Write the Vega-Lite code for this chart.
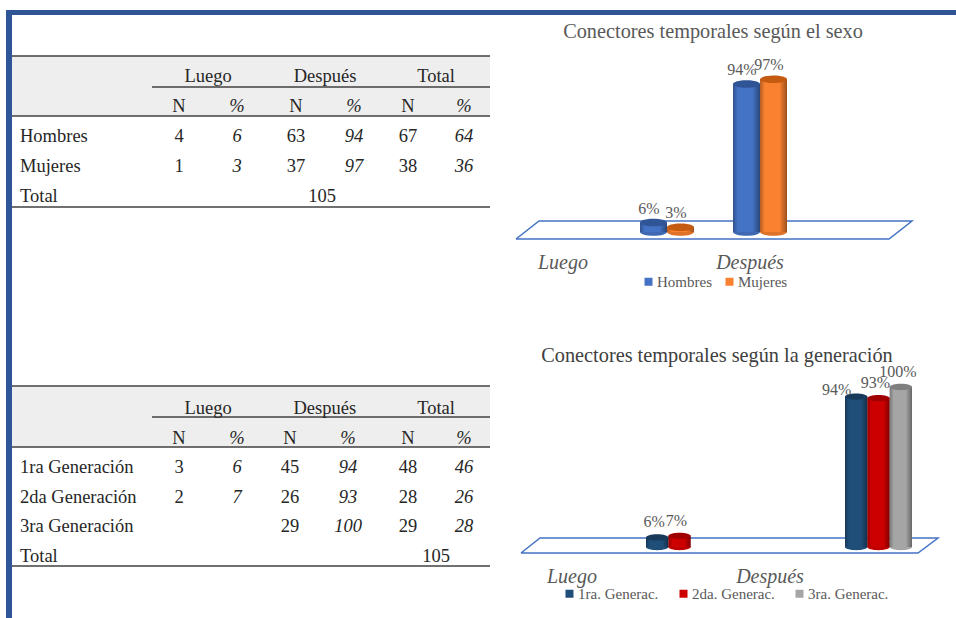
{
  "$schema": "https://vega.github.io/schema/vega-lite/v6.json",
  "width": 956,
  "height": 618,
  "padding": 0,
  "autosize": {"type": "none"},
  "background": "white",
  "config": {"axis": {"disable": true}, "view": {"stroke": null}, "text": {"font": "Liberation Serif"}},
  "datasets": {
    "marco": [
      {"lado": "arriba", "x0": 0, "x1": 2, "y0": 0, "y1": 1},
      {"lado": "izquierda", "x0": 0, "x1": 1, "y0": 0, "y1": 2}
    ],
    "bandas": [{"desde": 0, "hasta": 7, "n0": 0, "n1": 2}],
    "reglas": [
      {"desde": 0, "hasta": 7, "nivel": 0},
      {"desde": 0.5, "hasta": 7, "nivel": 1},
      {"desde": 0, "hasta": 7, "nivel": 2},
      {"desde": 0, "hasta": 7, "nivel": 9}
    ],
    "tablaSexo": [
      {"fila": "Grupo", "medida": "grupo", "col": 1.5, "valor": "Luego"},
      {"fila": "Grupo", "medida": "grupo", "col": 3.5, "valor": "Después"},
      {"fila": "Grupo", "medida": "grupo", "col": 5.5, "valor": "Total"},
      {"fila": "Medida", "medida": "N", "col": 1, "valor": "N"},
      {"fila": "Medida", "medida": "%", "col": 2, "valor": "%"},
      {"fila": "Medida", "medida": "N", "col": 3, "valor": "N"},
      {"fila": "Medida", "medida": "%", "col": 4, "valor": "%"},
      {"fila": "Medida", "medida": "N", "col": 5, "valor": "N"},
      {"fila": "Medida", "medida": "%", "col": 6, "valor": "%"},
      {"fila": "Hombres", "medida": "rotulo", "col": 0, "valor": "Hombres"},
      {"fila": "Hombres", "medida": "N", "col": 1, "valor": "4"},
      {"fila": "Hombres", "medida": "%", "col": 2, "valor": "6"},
      {"fila": "Hombres", "medida": "N", "col": 3, "valor": "63"},
      {"fila": "Hombres", "medida": "%", "col": 4, "valor": "94"},
      {"fila": "Hombres", "medida": "N", "col": 5, "valor": "67"},
      {"fila": "Hombres", "medida": "%", "col": 6, "valor": "64"},
      {"fila": "Mujeres", "medida": "rotulo", "col": 0, "valor": "Mujeres"},
      {"fila": "Mujeres", "medida": "N", "col": 1, "valor": "1"},
      {"fila": "Mujeres", "medida": "%", "col": 2, "valor": "3"},
      {"fila": "Mujeres", "medida": "N", "col": 3, "valor": "37"},
      {"fila": "Mujeres", "medida": "%", "col": 4, "valor": "97"},
      {"fila": "Mujeres", "medida": "N", "col": 5, "valor": "38"},
      {"fila": "Mujeres", "medida": "%", "col": 6, "valor": "36"},
      {"fila": "Total", "medida": "rotulo", "col": 0, "valor": "Total"},
      {"fila": "Total", "medida": "N", "col": 3.45, "valor": "105"}
    ],
    "tablaGeneracion": [
      {"fila": "Grupo", "medida": "grupo", "col": 1.5, "valor": "Luego"},
      {"fila": "Grupo", "medida": "grupo", "col": 3.6, "valor": "Después"},
      {"fila": "Grupo", "medida": "grupo", "col": 5.5, "valor": "Total"},
      {"fila": "Medida", "medida": "N", "col": 1, "valor": "N"},
      {"fila": "Medida", "medida": "%", "col": 2, "valor": "%"},
      {"fila": "Medida", "medida": "N", "col": 3, "valor": "N"},
      {"fila": "Medida", "medida": "%", "col": 4, "valor": "%"},
      {"fila": "Medida", "medida": "N", "col": 5, "valor": "N"},
      {"fila": "Medida", "medida": "%", "col": 6, "valor": "%"},
      {"fila": "1ra", "medida": "rotulo", "col": 0, "valor": "1ra Generación"},
      {"fila": "1ra", "medida": "N", "col": 1, "valor": "3"},
      {"fila": "1ra", "medida": "%", "col": 2, "valor": "6"},
      {"fila": "1ra", "medida": "N", "col": 3, "valor": "45"},
      {"fila": "1ra", "medida": "%", "col": 4, "valor": "94"},
      {"fila": "1ra", "medida": "N", "col": 5, "valor": "48"},
      {"fila": "1ra", "medida": "%", "col": 6, "valor": "46"},
      {"fila": "2da", "medida": "rotulo", "col": 0, "valor": "2da Generación"},
      {"fila": "2da", "medida": "N", "col": 1, "valor": "2"},
      {"fila": "2da", "medida": "%", "col": 2, "valor": "7"},
      {"fila": "2da", "medida": "N", "col": 3, "valor": "26"},
      {"fila": "2da", "medida": "%", "col": 4, "valor": "93"},
      {"fila": "2da", "medida": "N", "col": 5, "valor": "28"},
      {"fila": "2da", "medida": "%", "col": 6, "valor": "26"},
      {"fila": "3ra", "medida": "rotulo", "col": 0, "valor": "3ra Generación"},
      {"fila": "3ra", "medida": "N", "col": 3, "valor": "29"},
      {"fila": "3ra", "medida": "%", "col": 4, "valor": "100"},
      {"fila": "3ra", "medida": "N", "col": 5, "valor": "29"},
      {"fila": "3ra", "medida": "%", "col": 6, "valor": "28"},
      {"fila": "Total", "medida": "rotulo", "col": 0, "valor": "Total"},
      {"fila": "Total", "medida": "N", "col": 5.5, "valor": "105"}
    ],
    "piso": [
      {"orden": 1, "ancho": 0, "fondo": 0},
      {"orden": 2, "ancho": 2, "fondo": 0},
      {"orden": 3, "ancho": 3, "fondo": 1},
      {"orden": 4, "ancho": 1, "fondo": 1},
      {"orden": 5, "ancho": 0, "fondo": 0}
    ],
    "sexo": [
      {"conector": "Luego", "serie": "Hombres", "pct": 0.06},
      {"conector": "Luego", "serie": "Mujeres", "pct": 0.03},
      {"conector": "Después", "serie": "Hombres", "pct": 0.94},
      {"conector": "Después", "serie": "Mujeres", "pct": 0.97}
    ],
    "generacion": [
      {"conector": "Luego", "serie": "1ra. Generac.", "pct": 0.06},
      {"conector": "Luego", "serie": "2da. Generac.", "pct": 0.07},
      {"conector": "Después", "serie": "1ra. Generac.", "pct": 0.94},
      {"conector": "Después", "serie": "2da. Generac.", "pct": 0.93},
      {"conector": "Después", "serie": "3ra. Generac.", "pct": 1.0}
    ],
    "conectores": [{"conector": "Luego"}, {"conector": "Después"}],
    "tituloSexo": [{"titulo": "Conectores temporales según el sexo"}],
    "tituloGeneracion": [{"titulo": "Conectores temporales según la generación"}]
  },
  "resolve": {"scale": {"x": "independent", "y": "independent", "xOffset": "independent", "color": "independent"}},
  "layer": [
    {
      "data": {"name": "marco"},
      "mark": {"type": "rect", "fill": "#2F5597"},
      "encoding": {
        "x": {"field": "x0", "type": "quantitative", "scale": {"domain": [0, 1, 2], "range": [6, 12, 956], "nice": false, "zero": false}},
        "x2": {"field": "x1"},
        "y": {"field": "y0", "type": "quantitative", "scale": {"domain": [0, 1, 2], "range": [10, 15, 618], "nice": false, "zero": false}},
        "y2": {"field": "y1"}
      }
    },
    {
      "data": {"name": "bandas"},
      "mark": {"type": "rect", "fill": "#EEEEEE"},
      "encoding": {
        "x": {"field": "desde", "type": "quantitative", "scale": {"domain": [0, 7], "range": [12, 490], "nice": false, "zero": false}},
        "x2": {"field": "hasta"},
        "y": {"field": "n0", "type": "quantitative", "scale": {"domain": [0, 2], "range": [56, 116], "nice": false, "zero": false}},
        "y2": {"field": "n1"}
      }
    },
    {
      "data": {"name": "reglas"},
      "mark": {"type": "rule", "stroke": "#404040", "strokeWidth": 1.6},
      "encoding": {
        "x": {"field": "desde", "type": "quantitative", "scale": {"domain": [0, 0.5, 7], "range": [12, 152, 490], "nice": false, "zero": false}},
        "x2": {"field": "hasta"},
        "y": {"field": "nivel", "type": "quantitative", "scale": {"domain": [0, 1, 2, 9], "range": [56, 87, 116, 207], "nice": false, "zero": false}}
      }
    },
    {
      "data": {"name": "tablaSexo"},
      "transform": [{"filter": "datum.medida === 'rotulo'"}],
      "mark": {"type": "text", "align": "left", "baseline": "middle", "dx": 8, "fontSize": 18.5, "fill": "#262626"},
      "encoding": {
        "x": {"field": "col", "type": "quantitative", "scale": {"domain": [0, 1], "range": [12, 179], "nice": false, "zero": false}},
        "y": {"field": "fila", "type": "nominal", "scale": {"domain": ["Grupo", "Medida", "Hombres", "Mujeres", "Total"], "range": [76, 196], "padding": 0}},
        "text": {"field": "valor"}
      }
    },
    {
      "data": {"name": "tablaSexo"},
      "transform": [{"filter": "datum.medida === 'N' || datum.medida === 'grupo'"}],
      "mark": {"type": "text", "align": "center", "baseline": "middle", "fontSize": 18.5, "fill": "#262626"},
      "encoding": {
        "x": {"field": "col", "type": "quantitative", "scale": {"domain": [1, 2, 3, 4, 5, 6], "range": [179, 237, 296, 354, 408, 464], "nice": false, "zero": false}},
        "y": {"field": "fila", "type": "nominal", "scale": {"domain": ["Grupo", "Medida", "Hombres", "Mujeres", "Total"], "range": [76, 196], "padding": 0}},
        "text": {"field": "valor"}
      }
    },
    {
      "data": {"name": "tablaSexo"},
      "transform": [{"filter": "datum.medida === '%'"}],
      "mark": {"type": "text", "align": "center", "baseline": "middle", "fontSize": 18.5, "fontStyle": "italic", "fill": "#262626"},
      "encoding": {
        "x": {"field": "col", "type": "quantitative", "scale": {"domain": [1, 2, 3, 4, 5, 6], "range": [179, 237, 296, 354, 408, 464], "nice": false, "zero": false}},
        "y": {"field": "fila", "type": "nominal", "scale": {"domain": ["Grupo", "Medida", "Hombres", "Mujeres", "Total"], "range": [76, 196], "padding": 0}},
        "text": {"field": "valor"}
      }
    },
    {
      "data": {"name": "bandas"},
      "mark": {"type": "rect", "fill": "#EEEEEE"},
      "encoding": {
        "x": {"field": "desde", "type": "quantitative", "scale": {"domain": [0, 7], "range": [12, 490], "nice": false, "zero": false}},
        "x2": {"field": "hasta"},
        "y": {"field": "n0", "type": "quantitative", "scale": {"domain": [0, 2], "range": [387, 447], "nice": false, "zero": false}},
        "y2": {"field": "n1"}
      }
    },
    {
      "data": {"name": "reglas"},
      "mark": {"type": "rule", "stroke": "#404040", "strokeWidth": 1.6},
      "encoding": {
        "x": {"field": "desde", "type": "quantitative", "scale": {"domain": [0, 0.5, 7], "range": [12, 152, 490], "nice": false, "zero": false}},
        "x2": {"field": "hasta"},
        "y": {"field": "nivel", "type": "quantitative", "scale": {"domain": [0, 1, 2, 9], "range": [386, 417, 447, 566], "nice": false, "zero": false}}
      }
    },
    {
      "data": {"name": "tablaGeneracion"},
      "transform": [{"filter": "datum.medida === 'rotulo'"}],
      "mark": {"type": "text", "align": "left", "baseline": "middle", "dx": 8, "fontSize": 18.5, "fill": "#262626"},
      "encoding": {
        "x": {"field": "col", "type": "quantitative", "scale": {"domain": [0, 1], "range": [12, 179], "nice": false, "zero": false}},
        "y": {"field": "fila", "type": "nominal", "scale": {"domain": ["Grupo", "Medida", "1ra", "2da", "3ra", "Total"], "range": [408, 556], "padding": 0}},
        "text": {"field": "valor"}
      }
    },
    {
      "data": {"name": "tablaGeneracion"},
      "transform": [{"filter": "datum.medida === 'N' || datum.medida === 'grupo'"}],
      "mark": {"type": "text", "align": "center", "baseline": "middle", "fontSize": 18.5, "fill": "#262626"},
      "encoding": {
        "x": {"field": "col", "type": "quantitative", "scale": {"domain": [1, 2, 3, 4, 5, 6], "range": [179, 237, 290, 348, 408, 464], "nice": false, "zero": false}},
        "y": {"field": "fila", "type": "nominal", "scale": {"domain": ["Grupo", "Medida", "1ra", "2da", "3ra", "Total"], "range": [408, 556], "padding": 0}},
        "text": {"field": "valor"}
      }
    },
    {
      "data": {"name": "tablaGeneracion"},
      "transform": [{"filter": "datum.medida === '%'"}],
      "mark": {"type": "text", "align": "center", "baseline": "middle", "fontSize": 18.5, "fontStyle": "italic", "fill": "#262626"},
      "encoding": {
        "x": {"field": "col", "type": "quantitative", "scale": {"domain": [1, 2, 3, 4, 5, 6], "range": [179, 237, 290, 348, 408, 464], "nice": false, "zero": false}},
        "y": {"field": "fila", "type": "nominal", "scale": {"domain": ["Grupo", "Medida", "1ra", "2da", "3ra", "Total"], "range": [408, 556], "padding": 0}},
        "text": {"field": "valor"}
      }
    },
    {
      "data": {"name": "tituloSexo"},
      "mark": {"type": "text", "align": "center", "baseline": "middle", "fontSize": 20.3, "fill": "#595959"},
      "encoding": {
        "x": {"field": "titulo", "type": "nominal", "scale": {"range": [562, 864], "padding": 0}},
        "y": {"field": "titulo", "type": "nominal", "scale": {"range": [32, 32], "padding": 0}},
        "text": {"field": "titulo"}
      }
    },
    {
      "data": {"name": "tituloGeneracion"},
      "mark": {"type": "text", "align": "center", "baseline": "middle", "fontSize": 20.3, "fill": "#404040"},
      "encoding": {
        "x": {"field": "titulo", "type": "nominal", "scale": {"range": [542, 892], "padding": 0}},
        "y": {"field": "titulo", "type": "nominal", "scale": {"range": [356, 356], "padding": 0}},
        "text": {"field": "titulo"}
      }
    },
    {
      "data": {"name": "piso"},
      "mark": {"type": "line", "stroke": "#4472C4", "strokeWidth": 1.5},
      "encoding": {
        "x": {"field": "ancho", "type": "quantitative", "scale": {"domain": [0, 1, 2, 3], "range": [516, 539, 889, 912], "nice": false, "zero": false}},
        "y": {"field": "fondo", "type": "quantitative", "scale": {"domain": [0, 1], "range": [239, 221], "nice": false, "zero": false}},
        "order": {"field": "orden"}
      }
    },
    {
      "data": {"name": "piso"},
      "mark": {"type": "line", "stroke": "#4472C4", "strokeWidth": 1.5},
      "encoding": {
        "x": {"field": "ancho", "type": "quantitative", "scale": {"domain": [0, 1, 2, 3], "range": [521, 540, 918, 938], "nice": false, "zero": false}},
        "y": {"field": "fondo", "type": "quantitative", "scale": {"domain": [0, 1], "range": [553, 538], "nice": false, "zero": false}},
        "order": {"field": "orden"}
      }
    },
    {
      "data": {"name": "sexo"},
      "encoding": {
        "x": {"field": "conector", "type": "nominal", "scale": {"type": "band", "domain": ["Luego", "Después"], "range": [620.5, 806.5], "paddingInner": 0, "paddingOuter": 0}},
        "xOffset": {"field": "serie", "type": "nominal", "scale": {"type": "band", "domain": ["Hombres", "Mujeres"], "range": [19.5, 73.5], "paddingInner": 0, "paddingOuter": 0}},
        "y": {"field": "pct", "type": "quantitative", "scale": {"domain": [0, 1], "range": [232, 74.6], "nice": false}}
      },
      "resolve": {"scale": {"color": "independent"}},
      "layer": [
        {
          "mark": {"type": "point", "filled": true, "opacity": 1, "size": 729, "shape": "M-1,0 A1,0.28 0 1,1 1,0 A1,0.28 0 1,1 -1,0 Z"},
          "encoding": {
            "y": {"datum": 0, "type": "quantitative"},
            "color": {"field": "serie", "type": "nominal", "legend": null, "scale": {"domain": ["Hombres", "Mujeres"], "range": ["#3F69B3", "#DE7229"]}}
          }
        },
        {
          "mark": {"type": "bar"},
          "encoding": {
            "y2": {"datum": 0},
            "color": {
              "field": "serie", "type": "nominal",
              "scale": {"domain": ["Hombres", "Mujeres"], "range": ["#4472C4", "#F9812F"]},
              "legend": {"orient": "none", "legendX": 641, "legendY": 274, "direction": "horizontal", "title": null, "symbolType": "square", "symbolSize": 64, "symbolStrokeWidth": 0, "labelFont": "Liberation Serif", "labelFontSize": 15, "labelColor": "#595959", "labelOffset": 1, "columnPadding": 10}
            }
          }
        },
        {
          "mark": {"type": "bar", "fill": {"gradient": "linear", "x1": 0, "x2": 1, "y1": 0, "y2": 0, "stops": [{"offset": 0, "color": "rgba(0,0,0,0.28)"}, {"offset": 0.18, "color": "rgba(0,0,0,0)"}, {"offset": 0.72, "color": "rgba(0,0,0,0)"}, {"offset": 1, "color": "rgba(0,0,0,0.38)"}]}},
          "encoding": {"y2": {"datum": 0}}
        },
        {
          "mark": {"type": "point", "filled": true, "opacity": 1, "size": 729, "shape": "M-1,0 A1,0.28 0 1,1 1,0 A1,0.28 0 1,1 -1,0 Z"},
          "encoding": {
            "color": {"field": "serie", "type": "nominal", "legend": null, "scale": {"domain": ["Hombres", "Mujeres"], "range": ["#2F5597", "#C55A11"]}}
          }
        },
        {
          "mark": {"type": "text", "font": "Liberation Serif", "fontSize": 16, "fill": "#595959", "baseline": "middle", "dx": -4.5, "dy": -14},
          "encoding": {"text": {"field": "pct", "type": "quantitative", "format": ".0%"}}
        }
      ]
    },
    {
      "data": {"name": "generacion"},
      "encoding": {
        "x": {"field": "conector", "type": "nominal", "scale": {"type": "band", "domain": ["Luego", "Después"], "range": [580, 978], "paddingInner": 0, "paddingOuter": 0}},
        "xOffset": {"field": "serie", "type": "nominal", "scale": {"type": "band", "domain": ["1ra. Generac.", "2da. Generac.", "3ra. Generac."], "range": [66, 133], "paddingInner": 0, "paddingOuter": 0}},
        "y": {"field": "pct", "type": "quantitative", "scale": {"domain": [0, 1], "range": [547, 387], "nice": false}}
      },
      "resolve": {"scale": {"color": "independent"}},
      "layer": [
        {
          "mark": {"type": "point", "filled": true, "opacity": 1, "size": 500, "shape": "M-1,0 A1,0.28 0 1,1 1,0 A1,0.28 0 1,1 -1,0 Z"},
          "encoding": {
            "y": {"datum": 0, "type": "quantitative"},
            "color": {"field": "serie", "type": "nominal", "legend": null, "scale": {"domain": ["1ra. Generac.", "2da. Generac.", "3ra. Generac."], "range": ["#1F4E79", "#C00000", "#A5A5A5"]}}
          }
        },
        {
          "mark": {"type": "bar"},
          "encoding": {
            "y2": {"datum": 0},
            "color": {
              "field": "serie", "type": "nominal",
              "scale": {"domain": ["1ra. Generac.", "2da. Generac.", "3ra. Generac."], "range": ["#1F4E79", "#CC0000", "#A5A5A5"]},
              "legend": {"orient": "none", "legendX": 562, "legendY": 586, "direction": "horizontal", "title": null, "symbolType": "square", "symbolSize": 64, "symbolStrokeWidth": 0, "labelFont": "Liberation Serif", "labelFontSize": 15, "labelColor": "#595959", "labelOffset": 1, "columnPadding": 17}
            }
          }
        },
        {
          "mark": {"type": "bar", "fill": {"gradient": "linear", "x1": 0, "x2": 1, "y1": 0, "y2": 0, "stops": [{"offset": 0, "color": "rgba(0,0,0,0.28)"}, {"offset": 0.18, "color": "rgba(0,0,0,0)"}, {"offset": 0.72, "color": "rgba(0,0,0,0)"}, {"offset": 1, "color": "rgba(0,0,0,0.38)"}]}},
          "encoding": {"y2": {"datum": 0}}
        },
        {
          "mark": {"type": "point", "filled": true, "opacity": 1, "size": 500, "shape": "M-1,0 A1,0.28 0 1,1 1,0 A1,0.28 0 1,1 -1,0 Z"},
          "encoding": {
            "color": {"field": "serie", "type": "nominal", "legend": null, "scale": {"domain": ["1ra. Generac.", "2da. Generac.", "3ra. Generac."], "range": ["#173A5A", "#A00000", "#7F7F7F"]}}
          }
        },
        {
          "transform": [{"filter": "!(datum.conector === 'Después' && datum.serie === '1ra. Generac.')"}],
          "mark": {"type": "text", "font": "Liberation Serif", "fontSize": 16, "fill": "#595959", "baseline": "middle", "dx": -3, "dy": -15},
          "encoding": {"text": {"field": "pct", "type": "quantitative", "format": ".0%"}}
        },
        {
          "transform": [{"filter": "datum.conector === 'Después' && datum.serie === '1ra. Generac.'"}],
          "mark": {"type": "text", "font": "Liberation Serif", "fontSize": 16, "fill": "#595959", "baseline": "middle", "dx": -19.5, "dy": -6.6},
          "encoding": {"text": {"field": "pct", "type": "quantitative", "format": ".0%"}}
        }
      ]
    },
    {
      "data": {"name": "conectores"},
      "mark": {"type": "text", "align": "center", "baseline": "middle", "font": "Liberation Serif", "fontStyle": "italic", "fontSize": 20, "fill": "#595959"},
      "encoding": {
        "x": {"field": "conector", "type": "nominal", "scale": {"domain": ["Luego", "Después"], "range": [563, 750], "padding": 0}},
        "y": {"field": "conector", "type": "nominal", "scale": {"domain": ["Luego", "Después"], "range": [263, 263], "padding": 0}},
        "text": {"field": "conector"}
      }
    },
    {
      "data": {"name": "conectores"},
      "mark": {"type": "text", "align": "center", "baseline": "middle", "font": "Liberation Serif", "fontStyle": "italic", "fontSize": 20, "fill": "#595959"},
      "encoding": {
        "x": {"field": "conector", "type": "nominal", "scale": {"domain": ["Luego", "Después"], "range": [572, 770], "padding": 0}},
        "y": {"field": "conector", "type": "nominal", "scale": {"domain": ["Luego", "Después"], "range": [577, 577], "padding": 0}},
        "text": {"field": "conector"}
      }
    }
  ]
}
